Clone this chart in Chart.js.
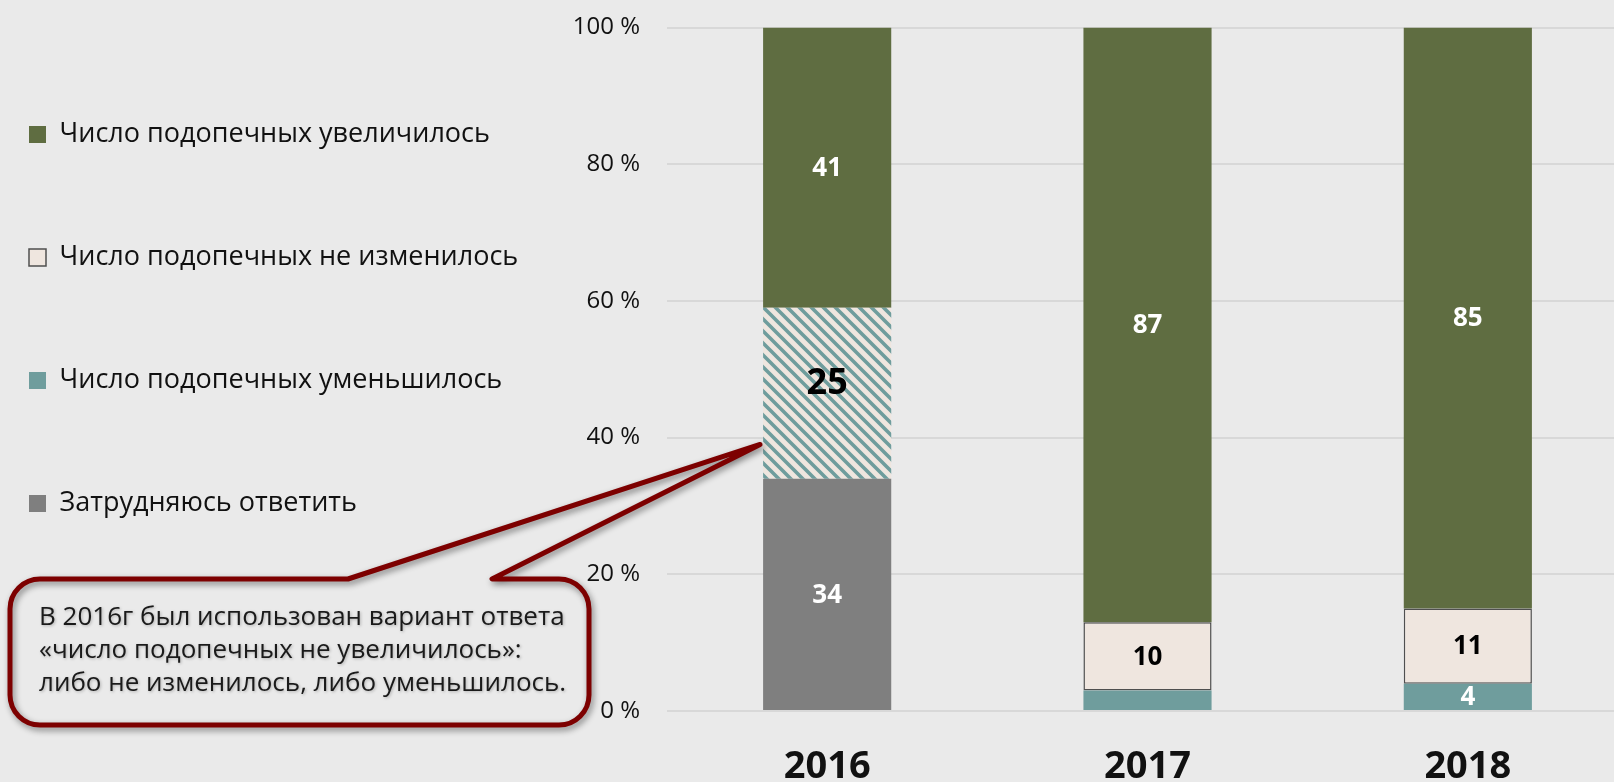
<!DOCTYPE html>
<html lang="ru">
<head>
<meta charset="utf-8">
<title>Число подопечных</title>
<script src="https://cdn.jsdelivr.net/npm/chart.js@4.4.1/dist/chart.umd.min.js"></script>
<style>
  html, body { margin: 0; padding: 0; overflow: hidden; background: #eaeaea; }
  #wrap { position: absolute; left: 0; top: 0; width: 1630px; height: 823px; }
</style>
</head>
<body>
<div id="wrap"><canvas id="chart" width="1630" height="823"></canvas></div>
<script>
// data, % of answers
const years = ['2016', '2017', '2018'];
const increased = [41, 87, 85];
const unchanged = [null, 10, 11];
const notIncreased = [25, null, null]; // 2016 only: "не увеличилось"
const decreased = [null, 3, 4];
const hardToSay = [34, null, null];
const yTicks = [0, 20, 40, 60, 80, 100];

const noteLines = [
  'В 2016г был использован вариант ответа',
  '«число подопечных не увеличилось»:',
  'либо не изменилось, либо уменьшилось.'
];

const green = '#5f6d41';
const cream = '#efe6df';
const teal = '#6f9d9d';
const grey = '#7f7f7f';
const darkRed = '#7d0000';
const font = '"Open Sans", "Noto Sans", sans-serif';

const padLeft = -67;   // legend starts left of the canvas so its box lands at x=28
const plotLeft = 667;  // where the plot area should begin

// diagonal stripes for the 2016 combined answer
function makeHatch() {
  const c = document.createElement('canvas');
  c.width = 12; c.height = 12;
  const g = c.getContext('2d');
  g.fillStyle = cream;
  g.fillRect(0, 0, 12, 12);
  g.strokeStyle = teal;
  g.lineWidth = 3.6;
  g.beginPath();
  g.moveTo(-3, -3); g.lineTo(15, 15);
  g.moveTo(-3, 9); g.lineTo(3, 15);
  g.moveTo(9, -3); g.lineTo(15, 3);
  g.stroke();
  return g.createPattern(c, 'repeat');
}

// numbers inside the bars
const barLabels = {
  id: 'barLabels',
  afterDatasetsDraw(chart) {
    const ctx = chart.ctx;
    chart.data.datasets.forEach((ds, i) => {
      const meta = chart.getDatasetMeta(i);
      meta.data.forEach((bar, j) => {
        const v = ds.data[j];
        if (v == null) return;
        if (Math.abs(bar.base - bar.y) < 22) return; // too thin, no label
        ctx.save();
        ctx.font = 'bold ' + ds.labelSize + 'px ' + font;
        ctx.fillStyle = ds.labelColor;
        ctx.textAlign = 'center';
        ctx.textBaseline = 'middle';
        ctx.fillText(v, bar.x, (bar.y + bar.base) / 2 + 1 + (ds.labelDy || 0));
        ctx.restore();
      });
    });
  }
};

// the red speech bubble pointing at the striped 2016 segment
const callout = {
  id: 'callout',
  afterDraw(chart) {
    const ctx = chart.ctx;
    const idx = chart.data.datasets.findIndex(d => d.label === 'Число подопечных не увеличилось');
    const bar = chart.getDatasetMeta(idx).data[0];
    const tipX = bar.x - bar.width / 2 - 3;
    const tipY = chart.scales.y.getPixelForValue(39);

    const l = 10, t = 579, r = 589, b = 725, rad = 30;
    ctx.save();
    ctx.shadowColor = 'rgba(0,0,0,0.45)';
    ctx.shadowBlur = 6;
    ctx.shadowOffsetX = 2;
    ctx.shadowOffsetY = 3;
    ctx.strokeStyle = darkRed;
    ctx.lineWidth = 5;
    ctx.lineJoin = 'round';
    ctx.beginPath();
    ctx.moveTo(l + rad, t);
    ctx.lineTo(348, t);
    ctx.lineTo(tipX, tipY);
    ctx.lineTo(492, t);
    ctx.arcTo(r, t, r, b, rad);
    ctx.arcTo(r, b, l, b, rad);
    ctx.arcTo(l, b, l, t, rad);
    ctx.arcTo(l, t, r, t, rad);
    ctx.closePath();
    ctx.stroke();

    ctx.shadowColor = 'rgba(0,0,0,0.25)';
    ctx.shadowBlur = 3;
    ctx.shadowOffsetX = 1;
    ctx.shadowOffsetY = 1;
    ctx.fillStyle = '#1a1a1a';
    ctx.font = '26px ' + font;
    ctx.textAlign = 'left';
    ctx.textBaseline = 'middle';
    noteLines.forEach((line, i) => ctx.fillText(line, 39, 618 + i * 33));
    ctx.restore();
  }
};

const ctx = document.getElementById('chart').getContext('2d');
const chart = new Chart(ctx, {
  type: 'bar',
  data: {
    labels: years,
    datasets: [
      { label: 'Затрудняюсь ответить', data: hardToSay, backgroundColor: grey,
        borderWidth: 0, labelColor: '#ffffff', labelSize: 26 },
      { label: 'Число подопечных уменьшилось', data: decreased, backgroundColor: teal,
        borderWidth: 0, labelColor: '#ffffff', labelSize: 26 },
      { label: 'Число подопечных не изменилось', data: unchanged, backgroundColor: cream,
        borderColor: '#4f4f4f', borderWidth: 1.5, borderSkipped: false,
        labelColor: '#000000', labelSize: 26 },
      { label: 'Число подопечных не увеличилось', data: notIncreased, backgroundColor: makeHatch(),
        borderWidth: 0, labelColor: '#000000', labelSize: 36, labelDy: -10 },
      { label: 'Число подопечных увеличилось', data: increased, backgroundColor: green,
        borderWidth: 0, labelColor: '#ffffff', labelSize: 26 }
    ]
  },
  options: {
    responsive: false,
    animation: false,
    categoryPercentage: 0.4,
    barPercentage: 1,
    layout: { padding: { left: padLeft, top: 25, right: 2, bottom: 0 } },
    scales: {
      x: {
        stacked: true,
        grid: { display: false, drawTicks: false },
        border: { display: false },
        ticks: {
          color: '#111111',
          padding: 37,
          font: { family: font, size: 38, weight: 'bold', lineHeight: 1 }
        }
      },
      y: {
        stacked: true,
        min: 0,
        max: 100,
        afterFit(scale) {
          const lg = scale.chart.legend;
          scale.width = plotLeft - (padLeft + (lg ? lg.width : 0));
        },
        afterBuildTicks(scale) { scale.ticks = yTicks.map(v => ({ value: v })); },
        border: { display: false },
        grid: { color: '#d8d8d8', lineWidth: 2, drawTicks: false },
        ticks: {
          color: '#111111',
          padding: 27,
          font: { family: font, size: 24, lineHeight: 0.05 },
          callback: v => v + ' %'
        }
      }
    },
    plugins: {
      legend: {
        position: 'left',
        align: 'start',
        reverse: true,
        maxWidth: 700,
        labels: {
          color: '#111111',
          font: { family: font, size: 27 },
          boxWidth: 17,
          boxHeight: 17,
          padding: 96,
          filter: item => item.text !== 'Число подопечных не увеличилось'
        }
      },
      tooltip: { enabled: false }
    }
  },
  plugins: [barLabels, callout]
});
</script>
</body>
</html>
